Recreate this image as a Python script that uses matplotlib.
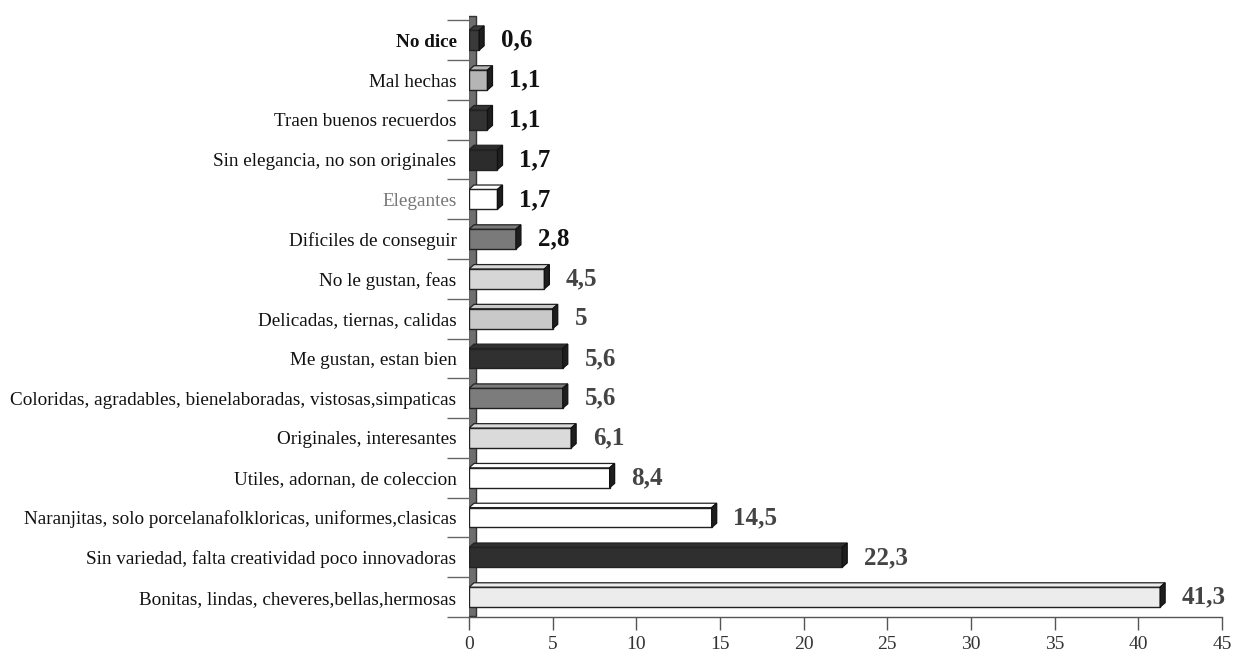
import matplotlib.pyplot as plt
from matplotlib.patches import Polygon, Rectangle

# categories listed bottom -> top
categories = [
    "Bonitas, lindas, cheveres,bellas,hermosas",
    "Sin variedad, falta creatividad poco innovadoras",
    "Naranjitas, solo porcelanafolkloricas, uniformes,clasicas",
    "Utiles, adornan, de coleccion",
    "Originales, interesantes",
    "Coloridas, agradables, bienelaboradas, vistosas,simpaticas",
    "Me gustan, estan bien",
    "Delicadas, tiernas, calidas",
    "No le gustan, feas",
    "Dificiles de conseguir",
    "Elegantes",
    "Sin elegancia, no son originales",
    "Traen buenos recuerdos",
    "Mal hechas",
    "No dice",
]
values = [41.3, 22.3, 14.5, 8.4, 6.1, 5.6, 5.6, 5, 4.5, 2.8, 1.7, 1.7, 1.1, 1.1, 0.6]
value_labels = ["41,3", "22,3", "14,5", "8,4", "6,1", "5,6", "5,6", "5", "4,5",
                "2,8", "1,7", "1,7", "1,1", "1,1", "0,6"]
bar_colors = ["#ececec", "#2f2f2f", "#ffffff", "#ffffff", "#dadada", "#7c7c7c",
              "#303030", "#c9c9c9", "#d6d6d6", "#7a7a7a", "#ffffff", "#2c2c2c",
              "#333333", "#b5b5b5", "#3a3a3a"]
value_colors = ["#444444"] * 9 + ["#111111"] * 6
label_colors = ["#111111"] * 10 + ["#777777"] + ["#111111"] * 4

plt.rcParams["font.family"] = ["Liberation Serif", "DejaVu Serif"]

fig = plt.figure(figsize=(12.35, 6.57), dpi=100)
ax = fig.add_axes([0.3798, 0.0609, 0.6097, 0.916])

bh = 0.5      # bar thickness
dx = 0.3      # depth offset along x (data units)
dy = 0.11     # depth offset along y (data units)
n = len(categories)

# back wall strip
ax.add_patch(Rectangle((-0.05, -0.48), 0.45, n + 0.1, facecolor="#6e6e6e",
                       edgecolor="#333333", linewidth=1.0, zorder=1))

for i, (v, c) in enumerate(zip(values, bar_colors)):
    y0 = i - bh / 2
    y1 = i + bh / 2
    ax.barh(i, v, height=bh, color=c, edgecolor="#222222", linewidth=1.0, zorder=3)
    # top face
    ax.add_patch(Polygon([(0, y1), (dx, y1 + dy), (v + dx, y1 + dy), (v, y1)],
                         closed=True, facecolor=c, edgecolor="#222222",
                         linewidth=0.9, zorder=3))
    # side face
    ax.add_patch(Polygon([(v, y0), (v + dx, y0 + dy), (v + dx, y1 + dy), (v, y1)],
                         closed=True, facecolor="#1e1e1e", edgecolor="#111111",
                         linewidth=0.9, zorder=4))
    ax.annotate(value_labels[i], (v + dx, i), xytext=(12, 0), textcoords="offset points",
                ha="left", va="center", fontsize=18, fontweight="bold",
                color=value_colors[i], zorder=5)

ax.set_xlim(0, 45)
ax.set_ylim(-0.48, n - 0.37)
ax.set_xticks(range(0, 50, 5))
ax.tick_params(axis="x", length=9, width=1.0, color="#555555", labelsize=14,
               labelcolor="#333333", pad=5)

ax.set_yticks(range(n))
ax.set_yticklabels(categories, fontsize=13.8)
for lbl, col in zip(ax.get_yticklabels(), label_colors):
    lbl.set_color(col)
ax.get_yticklabels()[-1].set_fontweight("bold")
ax.set_yticks([i + 0.5 for i in range(-1, n)], minor=True)
ax.tick_params(axis="y", which="major", length=0, pad=9)
ax.tick_params(axis="y", which="minor", length=16, width=1.0, color="#666666")

for s in ["top", "right", "left"]:
    ax.spines[s].set_visible(False)
ax.spines["bottom"].set_color("#555555")
ax.spines["bottom"].set_linewidth(1.0)

fig.savefig("out.png", dpi=100, facecolor="white")
